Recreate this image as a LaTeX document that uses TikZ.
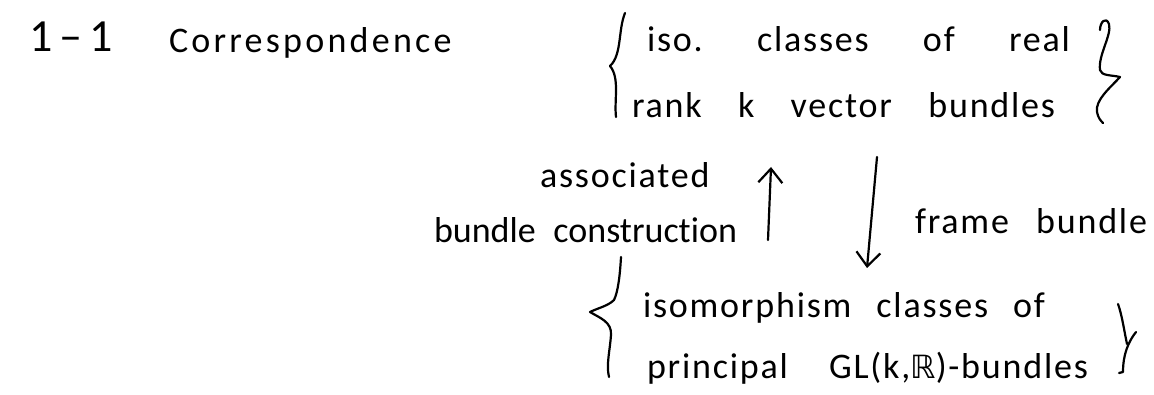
\documentclass[tikz,border=0pt]{standalone}
\usepackage{fontspec}
\frenchspacing
\newfontfamily\symfont{DejaVu Sans}
\newfontfamily\penfont[LetterSpace=5,Ligatures=NoCommon]{Carlito}
\newfontfamily\penfontwide[LetterSpace=9,Ligatures=NoCommon]{Carlito}
\newfontfamily\penfonttight[Ligatures=NoCommon]{Carlito}
\usetikzlibrary{arrows.meta}
\newcommand\spreadline[2]{\makebox[#1][s]{#2}}
\tikzset{
  hand/.style={inner sep=0pt, outer sep=0pt, anchor=base west,
    font=\penfont\fontsize{36}{42}\selectfont},
  pen/.style={line width=2.2pt, line cap=round, line join=round, black},
  barb/.style={-{Straight Barb[length=14pt,width=24pt]}}
}
\begin{document}
\begin{tikzpicture}[x=1pt,y=-1pt]
\useasboundingbox (0,0) rectangle (1154,395);

% heading
\node[hand, font=\penfonttight\fontsize{46}{50}\selectfont] (oneone) at (29,52) {\spreadline{63pt}{1 – 1}};
\node[hand, font=\penfontwide\fontsize{36}{42}\selectfont] (corr) at (169,53) {Correspondence};

% vector bundles
\node[hand] (vbA) at (647,52) {\spreadline{423pt}{iso. classes of real}};
\node[hand] (vbB) at (632,118) {\spreadline{423pt}{rank k vector bundles}};

% arrow labels
\node[hand] (assocA) at (540,188) {associated};
\node[hand, font=\penfonttight\fontsize{36}{42}\selectfont] (assocB) at (434,243) {\spreadline{303pt}{bundle construction}};
\node[hand] (frame) at (915,234) {\spreadline{232pt}{frame bundle}};

% principal bundles
\node[hand] (pbA) at (643,318) {\spreadline{402pt}{isomorphism classes of}};
\node[hand] (pbB) at (647,378) {\spreadline{441pt}{principal GL(k,{\symfont\fontsize{32}{38}\selectfont ℝ})-bundles}};

% braces
\draw[pen] (625,13) .. controls (618,30) and (622,55) .. (610,66)
  .. controls (620,78) and (614,100) .. (616,117);
\draw[pen] (1100,30) .. controls (1100,22) and (1106,16) .. (1109,24)
  .. controls (1112,35) and (1098,55) .. (1100,70)
  .. controls (1101,76) and (1112,75) .. (1120,77)
  .. controls (1110,88) and (1095,100) .. (1097,112)
  .. controls (1098,118) and (1101,121) .. (1103,123);
\draw[pen] (621,257) .. controls (620,275) and (618,292) .. (614,300)
  .. controls (608,306) and (598,308) .. (590,312)
  .. controls (600,318) and (612,322) .. (611,335)
  .. controls (610,350) and (606,365) .. (609,377);
\draw[pen] (1118,304) .. controls (1122,315) and (1124,330) .. (1127,344);
\draw[pen] (1136,332) .. controls (1128,342) and (1123,355) .. (1123,372) -- (1119,373);

% arrows between the two classes
\coordinate (upTail) at (768,240);
\coordinate (upHead) at (771,167);
\coordinate (dnTail) at (877,157);
\coordinate (dnHead) at (867,268);
\draw[pen,barb] (upTail) -- (upHead);
\draw[pen,barb] (dnTail) -- (dnHead);
\end{tikzpicture}
\end{document}
